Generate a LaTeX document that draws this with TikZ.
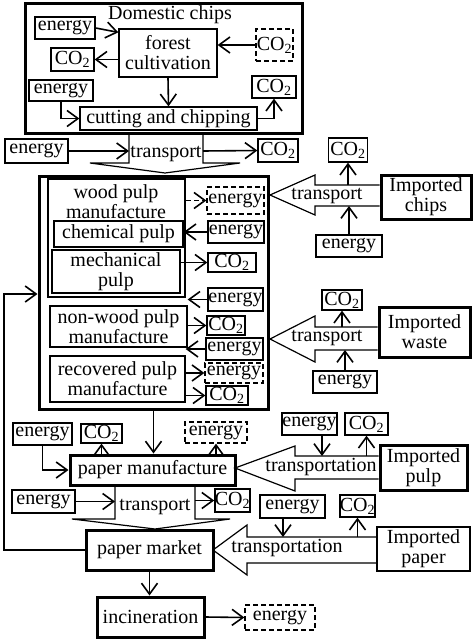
\documentclass[tikz,border=0pt]{standalone}
\usepackage{fontspec}
\setmainfont{Liberation Serif}
\usetikzlibrary{arrows.meta}

\begin{document}
\begin{tikzpicture}[x=1pt, y=-1pt, font=\fontsize{20}{20}\selectfont,
  line width=1.6pt,
  flow/.style={-{Straight Barb[length=11pt,width=16pt]}},
  box/.style={draw, line width=1.3pt, inner sep=0pt, align=center},
  bold/.style={box, line width=3pt},
  dbox/.style={box, dash pattern=on 5pt off 3pt},
  hollow/.style={draw, line width=1.2pt},
  wh/.style 2 args={minimum width=#1pt, minimum height=#2pt}]

\useasboundingbox (0,0) rectangle (474,642);

% domestic chips
\node[bold, wh={277}{129}] (dom) at (163.5,68.5) {};
\node (dtit) at (170,15) {Domestic chips};
\node[box, wh={60}{22}] (en1) at (65,28) {energy};
\node[box, wh={98}{48}] (forest) at (168,53) {forest\\cultivation};
\node[dbox, wh={37}{32}] (co2d) at (274.5,45) {CO\textsubscript{2}};
\node[box, wh={43}{23}] (co2a) at (72.5,59.5) {CO\textsubscript{2}};
\node[box, wh={64}{21}] (en2) at (61,90.5) {energy};
\node[box, wh={177}{23}] (cut) at (168.5,118.5) {cutting and chipping};
\node[box, wh={44}{22}] (co2b) at (274,87) {CO\textsubscript{2}};

\draw[flow] (en1.east) -- ([yshift=-4pt]forest.north west);
\draw[flow] (co2d.west) -- (co2d.west -| forest.east);
\draw[flow] (forest.west |- co2a) -- (co2a.east);
\draw[flow] (forest.south) -- (cut.north);
\draw[flow] (en2.south) |- (cut.west);
\draw[flow] (cut.east) -| (co2b.south);

% transport of domestic chips
\node[box, wh={63}{24}] (en3) at (36.5,151) {energy};
\node (tr1) at (166,154) {transport};
\node[box, wh={40}{23}] (co2c) at (278,150.5) {CO\textsubscript{2}};
\coordinate (t1l) at (129,151);
\coordinate (t1r) at (203,151);
\draw[line width=1.2pt] (129,133) -- (129,163) -- (90,163) -- (165,173) -- (240,163) -- (203,163) -- (203,133);
\draw[flow] (en3.east) -- (t1l);
\draw[flow] (t1r) -- (co2c.west);

% pulp manufacture
\node[bold, wh={229}{233}] (pulp) at (153.5,292.5) {};
\node[box, line width=2pt, wh={137}{118}] (wood) at (116.5,238) {};
\node[align=center] (wtit) at (116,202) {wood pulp\\manufacture};
\node[box, wh={129}{26}] (chem) at (118.5,234) {chemical pulp};
\node[box, wh={128}{43}] (mech) at (116,271.5) {mechanical\\pulp};
\node[box, wh={137}{41}] (nonw) at (118.5,326.5) {non-wood pulp\\manufacture};
\node[box, wh={135}{46}] (recov) at (117.5,379) {recovered pulp\\manufacture};
\node[dbox, wh={57}{27}] (en4) at (235.5,200.5) {energy};
\node[box, wh={56}{22}] (en5) at (236,232) {energy};
\node[box, wh={48}{19}] (co2e) at (232,262.5) {CO\textsubscript{2}};
\node[box, wh={55}{23}] (en6) at (235.5,299.5) {energy};
\node[box, wh={38}{19}] (co2f) at (226,325.5) {CO\textsubscript{2}};
\node[box, wh={57}{22}] (en7) at (234.5,349) {energy};
\node[dbox, wh={58}{20}] (en8) at (234,373) {energy};
\node[box, wh={42}{19}] (co2g) at (227,395.5) {CO\textsubscript{2}};

\draw[flow, dash pattern=on 5pt off 3pt] (wood.east |- en4) -- (en4.west);
\draw[flow] (en5.west) -- (en5.west -| chem.east);
\draw[flow] (mech.east |- co2e) -- (co2e.west);
\draw[flow] (en6.west) -- (en6.west -| nonw.east);
\draw[flow] (nonw.east |- co2f) -- (co2f.west);
\draw[flow] (en7.west) -- (en7.west -| recov.east);
\draw[flow] (recov.east |- en8) -- (en8.west);
\draw[flow] (recov.east |- co2g) -- (co2g.west);

% imported chips
\node[bold, wh={90}{44}] (ichips) at (426,197) {Imported\\chips};
\node (trc) at (327,196) {transport};
\node[box, wh={39}{24}] (co2h) at (348,150) {CO\textsubscript{2}};
\node[box, wh={66}{22}] (en9) at (349,246) {energy};
\coordinate (ch1) at (348,185);
\coordinate (ch2) at (349,206);
\draw[hollow] (ichips.west |- ch1) -- (315,185) -- (315,175) -- (270,195) -- (315,215) -- (315,206) -- (ichips.west |- ch2);
\draw[flow] (ch1) -- (co2h.south);
\draw[flow] (en9.north) -- (ch2);

% imported waste
\node[bold, wh={91}{50}] (iwaste) at (424.5,332) {Imported\\waste};
\node (trw) at (327,338) {transport};
\node[box, wh={40}{20}] (co2i) at (342,300) {CO\textsubscript{2}};
\node[box, wh={64}{22}] (en10) at (345,382) {energy};
\coordinate (cw1) at (342,327);
\coordinate (cw2) at (345,350);
\draw[hollow] (iwaste.west |- cw1) -- (315,327) -- (315,316) -- (270,339) -- (315,362) -- (315,350) -- (iwaste.west |- cw2);
\draw[flow] (cw1) -- (co2i.south);
\draw[flow] (en10.north) -- (cw2);

% paper manufacture
\node[bold, wh={165}{30}] (pman) at (152.5,470) {paper manufacture};
\node[box, wh={59}{22}] (en11) at (42.5,434) {energy};
\node[box, wh={41}{19}] (co2j) at (101.5,433.5) {CO\textsubscript{2}};
\node[dbox, wh={62}{21}] (en12) at (216,432.5) {energy};
\draw[flow] (pulp.south) -- (pulp.south |- pman.north);
\draw[flow] (en11.south) |- (pman.west);
\draw[flow] (pman.north -| co2j) -- (co2j.south);
\draw[flow] (pman.north -| en12) -- (en12.south);

% imported pulp
\node[bold, wh={87}{45}] (ipulp) at (423.5,467.5) {Imported\\pulp};
\node (trp) at (321,467) {transportation};
\node[box, wh={55}{22}] (en13) at (309.5,424) {energy};
\node[box, wh={43}{22}] (co2k) at (366.5,424) {CO\textsubscript{2}};
\coordinate (cp1) at (322,456);
\coordinate (cp2) at (366.5,456);
\draw[hollow] (ipulp.west |- cp1) -- (295,456) -- (295,446) -- (235,468) -- (295,491) -- (295,479) -- (ipulp.west |- 0,479);
\draw[flow] (en13.south -| cp1) -- (cp1);
\draw[flow] (cp2) -- (co2k.south);

% transport of paper
\node[box, wh={63}{23}] (en14) at (43.5,501.5) {energy};
\node (tr2) at (155,507) {transport};
\node[box, wh={35}{23}] (co2l) at (232.5,500.5) {CO\textsubscript{2}};
\coordinate (t2l) at (115,501.5);
\coordinate (t2r) at (195,500.5);
\draw[line width=1.2pt] (115,485) -- (115,519) -- (72,519) -- (155,529) -- (230,519) -- (195,519) -- (195,485);
\draw[flow] (en14.east) -- (t2l);
\draw[flow] (t2r) -- (co2l.west);

% paper market and imported paper
\node[bold, wh={127}{40}] (pmkt) at (149.5,550) {paper market};
\node[box, wh={93}{44}] (ipaper) at (423.5,549) {Imported\\paper};
\node (trq) at (287,548) {transportation};
\node[box, wh={65}{23}] (en15) at (292.5,506.5) {energy};
\node[box, wh={35}{22}] (co2m) at (357.5,506) {CO\textsubscript{2}};
\coordinate (cq1) at (283,537);
\coordinate (cq2) at (357.5,537);
\draw[hollow] (ipaper.west |- cq1) -- (247,537) -- (247,525) -- (213,550) -- (247,575) -- (247,563) -- (ipaper.west |- 0,563);
\draw[flow] (en15.south -| cq1) -- (cq1);
\draw[flow] (cq2) -- (co2m.south);

% recycling back to pulp
\coordinate (ret) at (4,294);
\draw[flow] (pmkt.west) -| (ret) -- (ret -| pulp.west);

% incineration
\node[bold, wh={107}{40}] (incin) at (150.5,617) {incineration};
\node[dbox, wh={70}{25}] (en16) at (280,617.5) {energy};
\draw[flow] (pmkt.south) -- (pmkt.south |- incin.north);
\draw[flow] (incin.east) -- (en16.west);

\end{tikzpicture}
\end{document}
